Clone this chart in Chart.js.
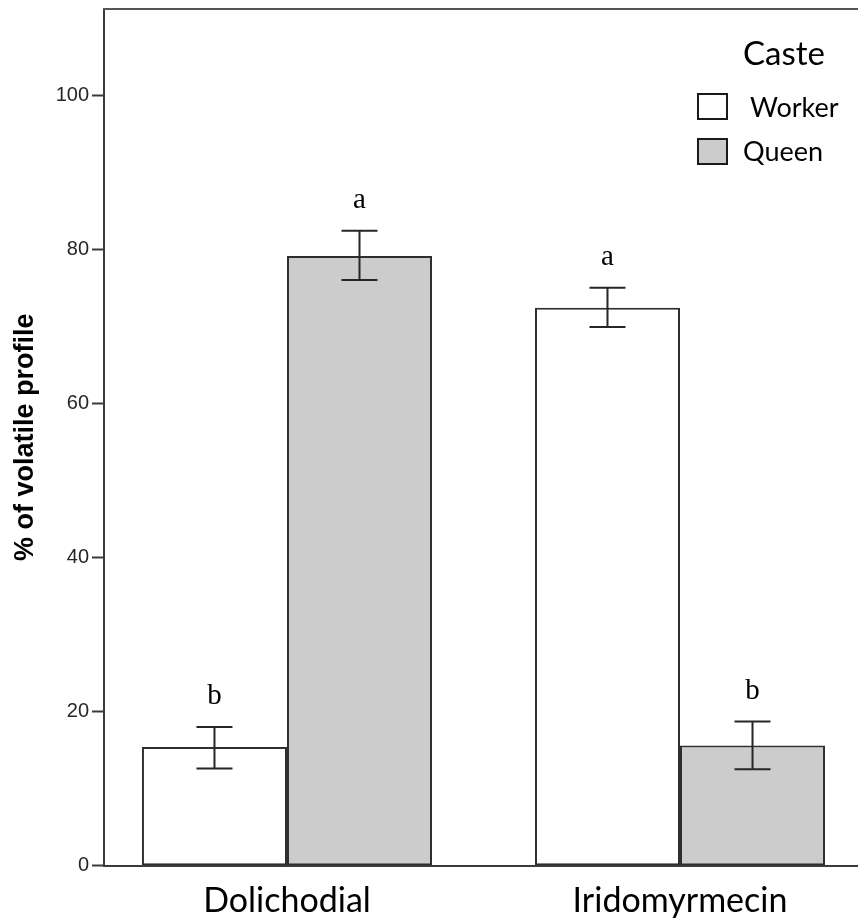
<!DOCTYPE html>
<html>
<head>
<meta charset="utf-8">
<title>Volatile profile by caste</title>
<script src="https://cdn.jsdelivr.net/npm/chart.js@4.4.1/dist/chart.umd.min.js"></script>
<style>
  html, body { margin: 0; padding: 0; background: #ffffff; }
  #wrap { position: relative; width: 858px; height: 921px; }
</style>
</head>
<body>
<div id="wrap"><canvas id="chart" width="858" height="921"></canvas></div>
<script>
// Compounds on the x axis
const categories = ['Dolichodial', 'Iridomyrmecin'];
// Castes (legend entries)
const seriesNames = ['Worker', 'Queen'];
// Mean % of volatile profile, with error bar bounds
const workerMean = [15.4, 72.4];
const workerLow  = [12.6, 69.9];
const workerHigh = [18.0, 75.0];
const queenMean  = [79.1, 15.6];
const queenLow   = [76.0, 12.5];
const queenHigh  = [82.4, 18.7];
// Significance letters above each bar
const workerLetters = ['b', 'a'];
const queenLetters  = ['a', 'b'];
// Y axis tick values
const yTicks = [0, 20, 40, 60, 80, 100];
const legendTitle = 'Caste';
const yTitle = '% of volatile profile';

const SANS = '"Liberation Sans", Arial, sans-serif';
const HUMAN = 'Lato, "Open Sans", sans-serif';
const SERIF = '"Liberation Serif", "Times New Roman", serif';

function points(values) {
  return values.map((v, i) => ({ x: i + 1, y: v }));
}

// Top frame line of the plot area
const framePlugin = {
  id: 'frame',
  beforeDatasetsDraw(chart) {
    const { ctx, chartArea } = chart;
    ctx.save();
    ctx.strokeStyle = '#555555';
    ctx.lineWidth = 2;
    ctx.beginPath();
    ctx.moveTo(chartArea.left - 1, chartArea.top);
    ctx.lineTo(chartArea.right, chartArea.top);
    ctx.stroke();
    ctx.restore();
  }
};

// Error bars and significance letters
const errorBarPlugin = {
  id: 'errorBars',
  afterDatasetsDraw(chart) {
    const { ctx } = chart;
    const y = chart.scales.y;
    ctx.save();
    chart.data.datasets.forEach((ds, i) => {
      const meta = chart.getDatasetMeta(i);
      meta.data.forEach((bar, j) => {
        const yHi = y.getPixelForValue(ds.errHigh[j]);
        const yLo = y.getPixelForValue(ds.errLow[j]);
        const x = bar.x;
        const cap = 18;
        ctx.strokeStyle = '#262626';
        ctx.lineWidth = 2;
        ctx.beginPath();
        ctx.moveTo(x, yHi); ctx.lineTo(x, yLo);
        ctx.moveTo(x - cap, yHi); ctx.lineTo(x + cap, yHi);
        ctx.moveTo(x - cap, yLo); ctx.lineTo(x + cap, yLo);
        ctx.stroke();
        ctx.fillStyle = '#000000';
        ctx.font = '29px ' + SERIF;
        ctx.textAlign = 'center';
        ctx.textBaseline = 'alphabetic';
        ctx.fillText(ds.letters[j], x, yHi - 23);
      });
    });
    ctx.restore();
  }
};

// Legend drawn inside the plot area, top right
const casteLegend = {
  id: 'casteLegend',
  afterDraw(chart) {
    const { ctx } = chart;
    ctx.save();
    ctx.fillStyle = '#000000';
    ctx.textAlign = 'left';
    ctx.textBaseline = 'alphabetic';
    ctx.font = '33px ' + HUMAN;
    ctx.fillText(legendTitle, 743, 65);
    const rows = [
      { boxY: 94, textX: 750, base: 117 },
      { boxY: 139, textX: 743, base: 161 }
    ];
    ctx.font = '27px ' + HUMAN;
    chart.data.datasets.forEach((ds, i) => {
      const r = rows[i];
      ctx.fillStyle = ds.backgroundColor;
      ctx.fillRect(698, r.boxY, 29, 25);
      ctx.strokeStyle = '#1a1a1a';
      ctx.lineWidth = 2;
      ctx.strokeRect(698, r.boxY, 29, 25);
      ctx.fillStyle = '#000000';
      ctx.fillText(ds.label, r.textX, r.base);
    });
    ctx.restore();
  }
};

const ctx = document.getElementById('chart').getContext('2d');
new Chart(ctx, {
  type: 'bar',
  data: {
    datasets: [
      {
        label: seriesNames[0],
        data: points(workerMean),
        errLow: workerLow,
        errHigh: workerHigh,
        letters: workerLetters,
        backgroundColor: '#ffffff',
        borderColor: '#2e2e2e',
        borderWidth: 2,
        borderSkipped: false
      },
      {
        label: seriesNames[1],
        data: points(queenMean),
        errLow: queenLow,
        errHigh: queenHigh,
        letters: queenLetters,
        backgroundColor: '#cccccc',
        borderColor: '#2e2e2e',
        borderWidth: 2,
        borderSkipped: false
      }
    ]
  },
  options: {
    responsive: false,
    animation: false,
    devicePixelRatio: 1,
    categoryPercentage: 0.738,
    barPercentage: 1.0,
    layout: { padding: { top: 9, left: 0, right: 0, bottom: 0 } },
    plugins: {
      legend: { display: false },
      tooltip: { enabled: false }
    },
    scales: {
      x: {
        type: 'linear',
        position: 'bottom',
        min: 0.5344,
        max: 2.4529,
        offset: false,
        afterBuildTicks(scale) {
          scale.ticks = categories.map((c, i) => ({ value: i + 1 }));
        },
        afterFit(scale) {
          scale.height = 55.3;
          scale.paddingLeft = 0;
          scale.paddingRight = 0;
        },
        ticks: {
          autoSkip: false,
          maxRotation: 0,
          padding: 15,
          color: '#000000',
          font: { family: HUMAN, size: 34 },
          callback: (v) => categories[Math.round(v) - 1] || ''
        },
        grid: { display: false, drawTicks: false, offset: false },
        border: { display: true, color: '#3a3a3a', width: 2 }
      },
      y: {
        type: 'linear',
        min: 0,
        max: 111.16,
        afterBuildTicks(scale) {
          scale.ticks = yTicks.map(v => ({ value: v }));
        },
        afterFit(scale) {
          scale.width = 104;
          scale.paddingTop = 0;
          scale.paddingBottom = 0;
        },
        ticks: {
          padding: 3,
          color: '#262626',
          font: { family: SANS, size: 20 }
        },
        grid: {
          display: true,
          drawOnChartArea: false,
          drawTicks: true,
          tickLength: 12,
          tickWidth: 2,
          tickColor: '#3a3a3a'
        },
        border: { display: true, color: '#3a3a3a', width: 2 },
        title: {
          display: true,
          text: yTitle,
          color: '#000000',
          font: { family: SANS, size: 27, weight: 'bold' },
          padding: { top: 9, bottom: 0 }
        }
      }
    }
  },
  plugins: [framePlugin, errorBarPlugin, casteLegend]
});
</script>
</body>
</html>
